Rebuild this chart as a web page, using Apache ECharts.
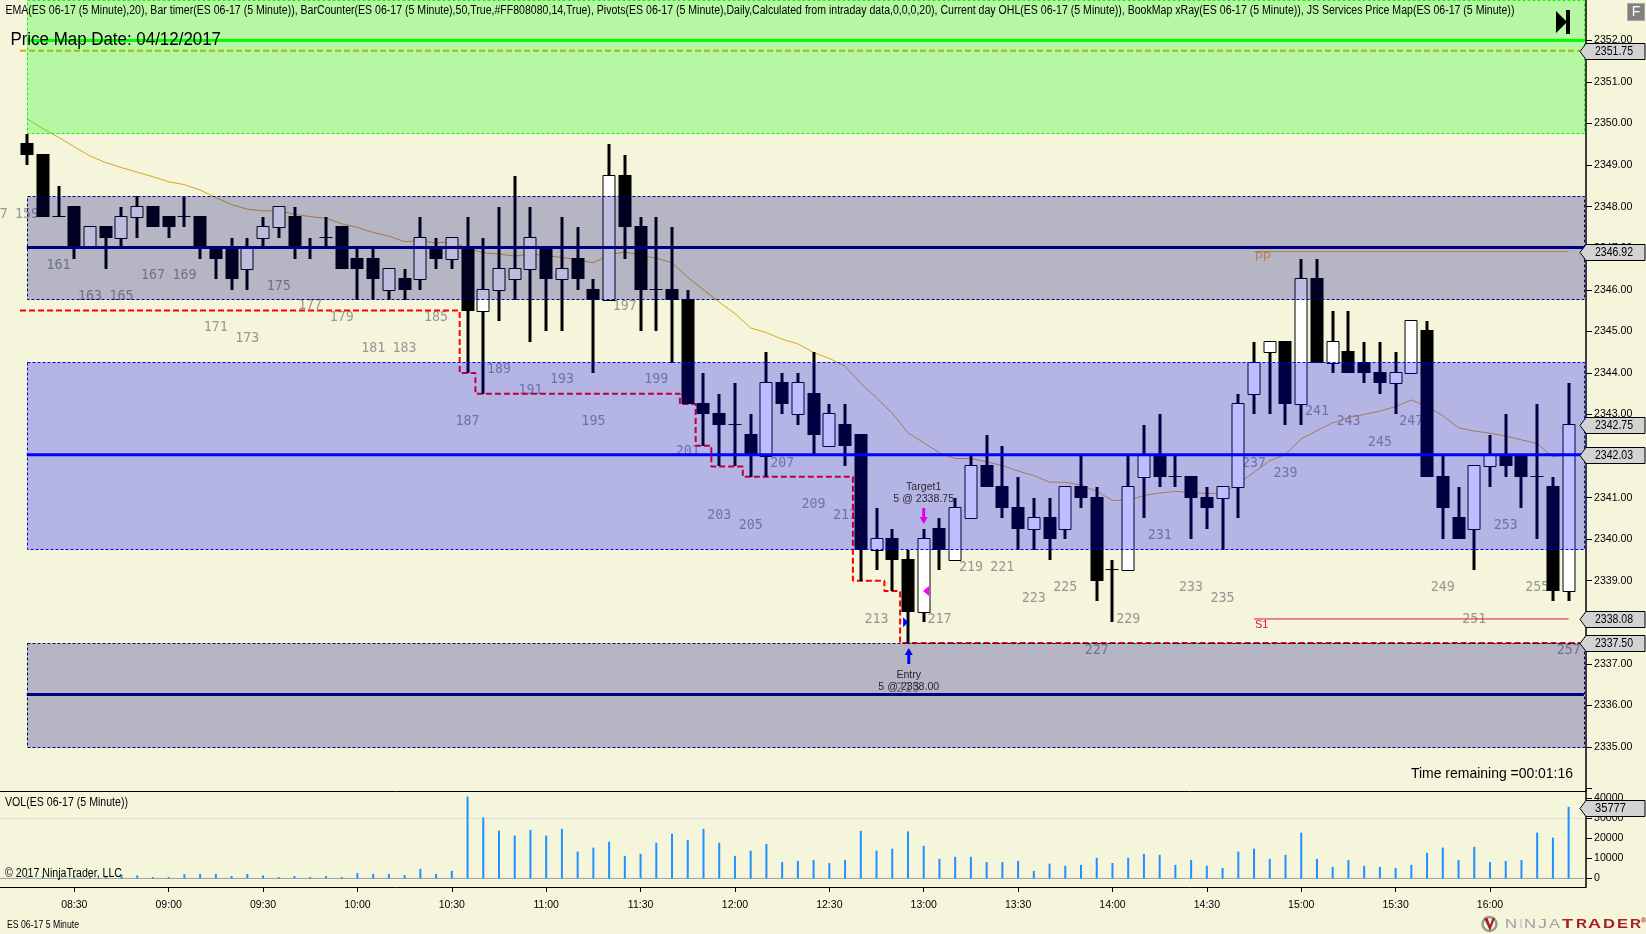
<!DOCTYPE html>
<html><head><meta charset="utf-8">
<style>html,body{margin:0;padding:0;background:#F5F5DC;overflow:hidden}#c{width:1646px;height:934px}</style>
<script src="https://cdn.jsdelivr.net/npm/echarts@6/dist/echarts.min.js"></script>
</head><body><div id="c"></div>
<script>
const opens=[2349.5,2349.25,2347.75,2348,2347,2347.5,2347.25,2347.75,2348,2347.75,2347.75,2347.75,2347,2347,2346.5,2347.25,2347.5,2347.75,2347,2347.25,2347.5,2346.75,2346.75,2346,2346.25,2346.25,2347,2346.75,2347,2345.5,2346,2346.25,2346.5,2347,2346.25,2346.75,2346,2345.75,2348.75,2347.5,2346,2346,2345.75,2343.25,2343,2342.75,2342.5,2342,2343.75,2343,2343.5,2342.25,2342.75,2342.5,2339.75,2340,2339.5,2338.25,2340.25,2339.5,2340.5,2341.75,2341.25,2340.75,2340.25,2340.5,2340.25,2341.25,2341,2339.25,2339.25,2341.5,2342,2341.5,2341.5,2341,2341,2341.25,2343.5,2344.5,2344.75,2343.25,2346.25,2344.25,2344.5,2344.25,2344,2343.75,2344,2345,2341.5,2340.5,2340.25,2341.75,2342,2342,2341.5,2341.25,2338.75];
const closes=[2349.25,2347.75,2347.75,2347,2347.5,2347.25,2347.75,2348,2347.5,2347.5,2347.75,2347,2346.75,2346.25,2347,2347.5,2348,2347,2347,2347.25,2346.5,2346.5,2346.25,2346.5,2346,2347.25,2346.75,2347.25,2345.5,2346,2346.5,2346.5,2347.25,2346.25,2346.5,2346.25,2345.75,2348.75,2347.5,2346,2346,2345.75,2343.25,2343,2342.75,2342.75,2342,2343.75,2343.25,2343.75,2342.5,2343,2342.25,2339.75,2340,2339.5,2338.25,2340,2339.75,2340.75,2341.75,2341.25,2340.75,2340.25,2340.5,2340,2341.25,2341,2339,2339.25,2341.25,2342,2341.5,2341.5,2341,2340.75,2341.25,2343.25,2344.25,2344.75,2343.25,2346.25,2344.25,2344.75,2344,2344,2343.75,2344,2345.25,2341.5,2340.75,2340,2341.75,2342,2341.75,2341.5,2341.5,2338.75,2342.75];
const lows=[2349,2347.75,2347.75,2346.75,2347,2346.5,2347,2347.25,2347.5,2347.25,2347.5,2346.75,2346.25,2346,2346,2347,2347.25,2346.75,2346.75,2347,2346.5,2345.75,2345.75,2345.75,2345.75,2346,2346.5,2346.5,2344,2343.5,2345.25,2345.75,2344.75,2345,2345,2346,2344,2345.75,2346.75,2345,2345,2344.25,2343.25,2342.25,2341.75,2341.75,2341.5,2341.5,2343,2342.75,2342,2342.25,2341.75,2339,2339.25,2338.75,2337.5,2338,2339.25,2339.5,2340.5,2341.25,2340.5,2339.75,2339.75,2339.5,2340,2340.75,2338.5,2338,2339.25,2340.5,2341.25,2341.25,2340,2340.25,2339.75,2340.5,2343,2343,2342.75,2342.75,2344.25,2344,2344,2343.75,2343.5,2343,2344,2341.5,2340,2340,2339.25,2341.25,2341.5,2340.75,2340,2338.5,2338.5];
const highs=[2349.75,2349.25,2348.5,2348,2347.5,2347.5,2348,2348.25,2348,2347.75,2348.25,2347.75,2347,2347.25,2347.25,2347.75,2348,2348,2347.25,2347.75,2347.5,2347,2347,2346.5,2346.5,2347.75,2347.25,2347.25,2347.75,2347.25,2348,2348.75,2348,2347,2347.75,2347.5,2346.25,2349.5,2349.25,2347.75,2347.75,2347.5,2346,2344,2343.5,2343.75,2343,2344.5,2344,2344,2344.5,2343.25,2343.25,2342.5,2340.75,2340.25,2339.75,2340.25,2340.5,2341,2342,2342.5,2342.25,2341.5,2341,2341,2341.25,2342,2341.25,2339.5,2342,2342.75,2343,2342,2341.5,2341.25,2341.25,2343.5,2344.75,2344.75,2344.75,2346.75,2346.75,2345.5,2345.5,2344.75,2344.75,2344.5,2345.25,2345.25,2342,2341.25,2341.75,2342.5,2343,2342,2343.25,2341.5,2343.75];
const ema=[2350.11,2349.88,2349.67,2349.44,2349.22,2349.06,2348.94,2348.83,2348.72,2348.6,2348.53,2348.4,2348.22,2348.05,2347.94,2347.9,2347.9,2347.82,2347.76,2347.72,2347.59,2347.5,2347.38,2347.29,2347.16,2347.18,2347.13,2347.15,2347,2346.89,2346.86,2346.81,2346.86,2346.82,2346.78,2346.72,2346.65,2346.84,2346.91,2346.83,2346.76,2346.65,2346.3,2346,2345.7,2345.43,2345.08,2344.97,2344.81,2344.7,2344.49,2344.35,2344.16,2343.75,2343.4,2343.03,2342.56,2342.32,2342.08,2341.94,2341.94,2341.86,2341.77,2341.64,2341.53,2341.37,2341.37,2341.3,2341.15,2340.93,2340.94,2341.05,2341.11,2341.15,2341.12,2341.1,2341.1,2341.34,2341.61,2341.89,2342.04,2342.41,2342.61,2342.8,2342.92,2343,2343.08,2343.19,2343.35,2343.19,2342.97,2342.68,2342.6,2342.55,2342.48,2342.39,2342.3,2341.98,2342.04];
const volume=[700,1200,400,1200,700,1000,1900,1500,700,700,2100,2200,2200,1200,2200,1500,700,1200,700,1200,700,2700,2200,2200,1700,4800,2200,3800,40900,30500,23800,21400,24300,21400,24800,13400,15400,18300,11300,12300,17800,22400,19300,24800,17800,11300,13900,17300,8200,8700,9200,7700,9200,23800,13900,14900,23500,16300,9800,10800,10800,8200,8200,8700,3800,7400,6300,6800,10300,7700,10300,12300,11800,6800,9200,6300,5300,13400,14900,9800,11800,22900,9800,5800,9200,6300,5800,5300,6800,12800,15400,9200,15800,8200,8700,9200,22900,20400,35777];
const counterNumbers=[157,159,161,163,165,167,169,171,173,175,177,179,181,183,185,187,189,191,193,195,197,199,201,203,205,207,209,211,213,215,217,219,221,223,225,227,229,231,233,235,237,239,241,243,245,247,249,251,253,255,257];
const counterPrices=[2347.82,2347.82,2346.58,2345.83,2345.83,2346.35,2346.35,2345.09,2344.82,2346.07,2345.61,2345.34,2344.58,2344.58,2345.34,2342.83,2344.09,2343.58,2343.85,2342.83,2345.6,2343.85,2342.1,2340.56,2340.32,2341.82,2340.83,2340.56,2338.06,2336.4,2338.06,2339.32,2339.32,2338.57,2338.83,2337.32,2338.06,2340.08,2338.83,2338.57,2341.82,2341.58,2343.07,2342.83,2342.32,2342.83,2338.83,2338.06,2340.32,2338.83,2337.32];
const stopBars=[-0.45,27.5,27.5,28.5,28.5,41.5,41.5,42.5,42.5,43.5,43.5,45.5,45.5,52.5,52.5,54.5,54.5,55.5,55.5,99];
const stopPrices=[2345.5,2345.5,2344,2344,2343.5,2343.5,2343.25,2343.25,2342.25,2342.25,2341.75,2341.75,2341.5,2341.5,2339,2339,2338.75,2338.75,2337.5,2337.5];
const zoneTops=[2352.97,2348.26,2344.26,2337.51];
const zoneBottoms=[2349.77,2345.77,2339.75,2335.01];
const zoneCenters=[2352,2347.02,2342.03,2336.26];
const zoneFills=['rgba(0,255,0,0.26)','rgba(0,0,128,0.26)','rgba(0,0,255,0.26)','rgba(0,0,128,0.26)'];
const zoneEdges=['#00FF00','#000080','#0000FF','#000080'];
const priceTicks=[2334,2335,2336,2337,2338,2339,2340,2341,2342,2343,2344,2345,2346,2347,2348,2349,2350,2351,2352];
const priceFlags=['2351.75','2346.92','2342.75','2342.03','2338.08','2337.50'];
const volTicks=[0,10000,20000,30000,40000];
const timeBars=[3,9,15,21,27,33,39,45,51,57,63,69,75,81,87,93];
const timeLabels=['08:30','09:00','09:30','10:00','10:30','11:00','11:30','12:00','12:30','13:00','13:30','14:00','14:30','15:00','15:30','16:00'];
const titleText='EMA(ES 06-17 (5 Minute),20), Bar timer(ES 06-17 (5 Minute)), BarCounter(ES 06-17 (5 Minute),50,True,#FF808080,14,True), Pivots(ES 06-17 (5 Minute),Daily,Calculated from intraday data,0,0,0,20), Current day OHL(ES 06-17 (5 Minute)), BookMap xRay(ES 06-17 (5 Minute)), JS Services Price Map(ES 06-17 (5 Minute))';

const SANS='"Liberation Sans",Arial,sans-serif';
const XMIN=-27.1/15.73, XMAX=(1586-27.1)/15.73;
const XL=-0.02, XR=98.97;
const candleData=opens.map((o,i)=>[i,o,closes[i],lows[i],highs[i]]);
const measure=document.createElement('canvas').getContext('2d');
function fit(text,font,x,y,w,fill,z){
  measure.font=font;
  return {type:'text',z:z||50,x:x,y:y,scaleX:w/measure.measureText(text).width,style:{text:text,font:font,fill:fill||'#000',verticalAlign:'middle',align:'left'}};
}
function renderCandle(params,api){
  const i=api.value(0),o=api.value(1),c=api.value(2),l=api.value(3),h=api.value(4);
  const x=Math.round(api.coord([i,o])[0]);
  const yo=Math.round(api.coord([i,o])[1]),yc=Math.round(api.coord([i,c])[1]);
  const yl=Math.round(api.coord([i,l])[1]),yh=Math.round(api.coord([i,h])[1]);
  const kids=[{type:'rect',shape:{x:x-1.5,y:yh,width:3,height:yl-yh},style:{fill:'#000'}}];
  if(o===c){kids.push({type:'rect',shape:{x:x-6.5,y:yo-1,width:13,height:1},style:{fill:'#000'}});}
  else if(c<o){kids.push({type:'rect',shape:{x:x-6.5,y:yo-1,width:13,height:yc-yo+1},style:{fill:'#000'}});}
  else{kids.push({type:'rect',shape:{x:x-6,y:yc-0.5,width:12,height:yo-yc+1},style:{fill:'#fff',stroke:'#000',lineWidth:1}});}
  return {type:'group',children:kids};
}
function renderCounter(params,api){
  const p=api.coord([api.value(0),api.value(1)]);
  return {type:'text',style:{text:String(api.value(2)),x:p[0],y:p[1],font:'13.3px "DejaVu Sans Mono",monospace',fill:'rgba(128,128,128,0.8)',align:'center',verticalAlign:'middle'}};
}
function renderZone(params,api){
  const n=params.dataIndex;
  const a=api.coord([XL,zoneTops[n]]),b=api.coord([XR,zoneBottoms[n]]);
  return {type:'rect',shape:{x:Math.round(a[0])+0.5,y:Math.round(a[1])+0.5,width:Math.round(b[0]-a[0]),height:Math.round(b[1]-a[1])},
    style:{fill:zoneFills[n],stroke:zoneEdges[n],lineWidth:1,lineDash:[3,2]}};
}
function flagShape(y,text){
  const t=fit(text,'12px '+SANS,1595,y,text.length>5?38:31);
  delete t.z;
  return {type:'group',children:[
    {type:'polygon',shape:{points:[[1580,y],[1586,y-8],[1645,y-8],[1645,y+8],[1586,y+8]]},style:{fill:'#D3D3D3',stroke:'#000',lineWidth:1}},
    t
  ]};
}
function renderPriceFlag(params,api){
  return flagShape(Math.round(api.coord([0,api.value(1)])[1])+0.5,priceFlags[params.dataIndex]);
}
function renderVolFlag(params,api){
  return flagShape(Math.round(api.coord([0,api.value(1)])[1])+1.5,String(api.value(1)));
}
const ARROW='path://M4 0L8 7L5.5 7L5.5 16L2.5 16L2.5 7L0 7Z';
const logoLetters=[['N',1505,12],['I',1520,2],['N',1524,12],['J',1538,9],['A',1549,11],['T',1562,11],['R',1576,11],['A',1588,13],['D',1603,12],['E',1617,11],['R',1630,11]];
const graphics=[
 fit(titleText,'12px '+SANS,5.4,11,1509),
 fit('Price Map Date: 04/12/2017','17.5px '+SANS,10.4,40,210.6),
 fit('Time remaining =00:01:16','15px '+SANS,1411,774,162),
 fit('VOL(ES 06-17 (5 Minute))','12px '+SANS,5,803,123),
 fit('\u00A9 2017 NinjaTrader, LLC','12px '+SANS,5,873.5,117),
 fit('ES 06-17 5 Minute','10px '+SANS,7,925,72),
 {type:'polygon',z:50,shape:{points:[[1556,11],[1567,22],[1556,33]]},style:{fill:'#000'}},
 {type:'rect',z:50,shape:{x:1566,y:10,width:4,height:24},style:{fill:'#000'}},
 {type:'rect',z:50,shape:{x:1627.5,y:3.5,width:17,height:17},style:{fill:'#808080',stroke:'#A9A9A9',lineWidth:1}},
 {type:'text',z:51,style:{text:'F',x:1636,y:12,font:'14px '+SANS,fill:'#fff',align:'center',verticalAlign:'middle'}},
 {type:'text',z:50,style:{text:'PP',x:1255,y:258,font:'12px '+SANS,fill:'#B5824F',verticalAlign:'middle'}},
 {type:'text',z:50,style:{text:'S1',x:1255,y:625,font:'11px '+SANS,fill:'#DC143C',verticalAlign:'middle'}},
 {type:'circle',z:50,shape:{cx:1489.5,cy:924,r:7},style:{fill:'none',stroke:'#9A9A9A',lineWidth:2.5}},
 {type:'polygon',z:51,shape:{points:[[1484,918],[1487.5,918],[1490,925],[1492.5,918],[1495,918],[1490,931]]},style:{fill:'#A81E28'}},
 {type:'text',z:50,style:{text:'\u00AE',x:1641,y:921,font:'bold 7px '+SANS,fill:'#A81E28',verticalAlign:'middle'}}
].concat(logoLetters.map((a,k)=>fit(a[0],(k>4?'bold ':'')+'12.5px '+SANS,a[1],925,a[2],k>4?'#A81E28':'#A0A0A0')));

const option={
 backgroundColor:'#F5F5DC',animation:false,
 grid:[{left:0,top:0,width:1586,height:791},{left:0,top:791,width:1586,height:96}],
 graphic:graphics,
 xAxis:[
  {gridIndex:0,type:'value',min:XMIN,max:XMAX,splitLine:{show:false},axisTick:{show:false},axisLabel:{show:false},axisLine:{show:true,onZero:false,lineStyle:{color:'#000',width:1}}},
  {gridIndex:1,type:'value',min:XMIN,max:XMAX,splitLine:{show:false},axisLine:{show:true,onZero:false,lineStyle:{color:'#000',width:1}},
   axisTick:{show:true,length:5,lineStyle:{color:'#000'},customValues:timeBars},
   axisLabel:{show:true,margin:13,color:'#000',fontFamily:'Liberation Sans',fontSize:10.5,customValues:timeBars,formatter:v=>timeLabels[timeBars.indexOf(Math.round(v))]||''}}
 ],
 yAxis:[
  {gridIndex:0,type:'value',position:'right',min:2333.94,max:2352.973,splitLine:{show:false},
   axisLine:{show:true,onZero:false,lineStyle:{color:'#000',width:1.5}},
   axisTick:{show:true,length:6,lineStyle:{color:'#000'},customValues:priceTicks},
   axisLabel:{show:true,margin:8,color:'#000',fontFamily:'Liberation Sans',fontSize:10.6,align:'left',customValues:priceTicks.slice(1),formatter:v=>v.toFixed(2)}},
  {gridIndex:1,type:'value',position:'right',min:-4270,max:43700,splitLine:{show:false},
   axisLine:{show:true,onZero:false,lineStyle:{color:'#000',width:1.5}},
   axisTick:{show:true,length:6,lineStyle:{color:'#000'},customValues:volTicks},
   axisLabel:{show:true,margin:8,color:'#000',fontFamily:'Liberation Sans',fontSize:10.6,align:'left',customValues:volTicks,formatter:v=>String(v)}}
 ],
 series:[
  {name:'counter',type:'custom',z:1,xAxisIndex:0,yAxisIndex:0,clip:false,renderItem:renderCounter,silent:true,
   data:counterNumbers.map((n,k)=>[n-159,counterPrices[k],n])},
  {name:'stop',type:'line',z:2,xAxisIndex:0,yAxisIndex:0,showSymbol:false,clip:false,silent:true,
   lineStyle:{color:'#FF0000',width:2,type:[6,3]},data:stopBars.map((b,k)=>[b,stopPrices[k]])},
  {name:'level',type:'line',z:2,xAxisIndex:0,yAxisIndex:0,showSymbol:false,clip:false,silent:true,
   lineStyle:{color:'#DAA520',width:2,type:[6,3]},data:[[-0.45,2351.75],[XR,2351.75]]},
  {name:'EMA',type:'line',z:3,xAxisIndex:0,yAxisIndex:0,showSymbol:false,silent:true,
   lineStyle:{color:'#DAA520',width:1},data:ema.map((v,i)=>[i,v])},
  {name:'candles',type:'custom',z:4,xAxisIndex:0,yAxisIndex:0,renderItem:renderCandle,silent:true,
   encode:{x:0,y:[1,2,3,4]},data:candleData},
  {name:'zones',type:'custom',z:5,xAxisIndex:0,yAxisIndex:0,renderItem:renderZone,silent:true,clip:false,
   encode:{x:0,y:1},data:zoneTops.map(t=>[XL,t])},
  ...zoneCenters.map((p,n)=>({name:'zone line',type:'line',z:6,xAxisIndex:0,yAxisIndex:0,showSymbol:false,silent:true,
    lineStyle:{color:n===0?'#00FF00':zoneEdges[n],width:3},data:[[XL,p],[XR,p]]})),
  {name:'PP',type:'line',z:6,xAxisIndex:0,yAxisIndex:0,showSymbol:false,silent:true,lineStyle:{color:'#B5824F',width:1},data:[[78,2346.92],[98,2346.92]]},
  {name:'S1',type:'line',z:6,xAxisIndex:0,yAxisIndex:0,showSymbol:false,silent:true,lineStyle:{color:'#DC143C',width:1},data:[[78,2338.08],[98,2338.08]]},
  {name:'arrow down',type:'scatter',z:7,xAxisIndex:0,yAxisIndex:0,symbol:ARROW,symbolRotate:180,symbolSize:[8,16],silent:true,itemStyle:{color:'#E000F0',opacity:1},data:[[57,2340.56]]},
  {name:'arrow up',type:'scatter',z:7,xAxisIndex:0,yAxisIndex:0,symbol:ARROW,symbolSize:[8,16],silent:true,itemStyle:{color:'#0000FF',opacity:1},data:[[56.05,2337.19]]},
  {name:'fill left',type:'scatter',z:7,xAxisIndex:0,yAxisIndex:0,symbol:'triangle',symbolRotate:90,symbolSize:[10,6],silent:true,itemStyle:{color:'#FF00FF',opacity:1},data:[[57.15,2338.75]]},
  {name:'fill right',type:'scatter',z:7,xAxisIndex:0,yAxisIndex:0,symbol:'triangle',symbolRotate:-90,symbolSize:[10,5],silent:true,itemStyle:{color:'#0000FF',opacity:1},data:[[55.85,2338]]},
  {name:'trade text',type:'scatter',z:8,xAxisIndex:0,yAxisIndex:0,symbolSize:0,silent:true,
   label:{show:true,position:'inside',color:'#000',fontFamily:'Liberation Sans',fontSize:10.6,lineHeight:12,align:'center',verticalAlign:'middle',formatter:p=>p.data[2]},
   data:[[57,2341.1,'Target1\n5 @ 2338.75'],[56.05,2336.58,'Entry\n5 @ 2338.00']]},
  {name:'VOL',type:'bar',z:3,xAxisIndex:1,yAxisIndex:1,barWidth:2,silent:true,itemStyle:{color:'#1E90FF'},data:volume.map((v,i)=>[i,v])},
  {name:'vol base',type:'line',z:2,xAxisIndex:1,yAxisIndex:1,showSymbol:false,silent:true,lineStyle:{color:'#A0A0A0',width:1},data:[[XMIN,0],[XR,0]]},
  {name:'vol grid',type:'line',z:2,xAxisIndex:1,yAxisIndex:1,showSymbol:false,silent:true,lineStyle:{color:'#DCDCDC',width:1},data:[[XMIN,30000],[XR,30000]]},
  {name:'price flags',type:'custom',z:20,xAxisIndex:0,yAxisIndex:0,clip:false,renderItem:renderPriceFlag,silent:true,
   data:priceFlags.map(p=>[0,Number(p)])},
  {name:'vol flag',type:'custom',z:20,xAxisIndex:1,yAxisIndex:1,clip:false,renderItem:renderVolFlag,silent:true,
   data:[[0,35777]]}
 ]
};
const chart=echarts.init(document.getElementById('c'),null,{renderer:'canvas',width:1646,height:934});
chart.setOption(option);
</script></body></html>
